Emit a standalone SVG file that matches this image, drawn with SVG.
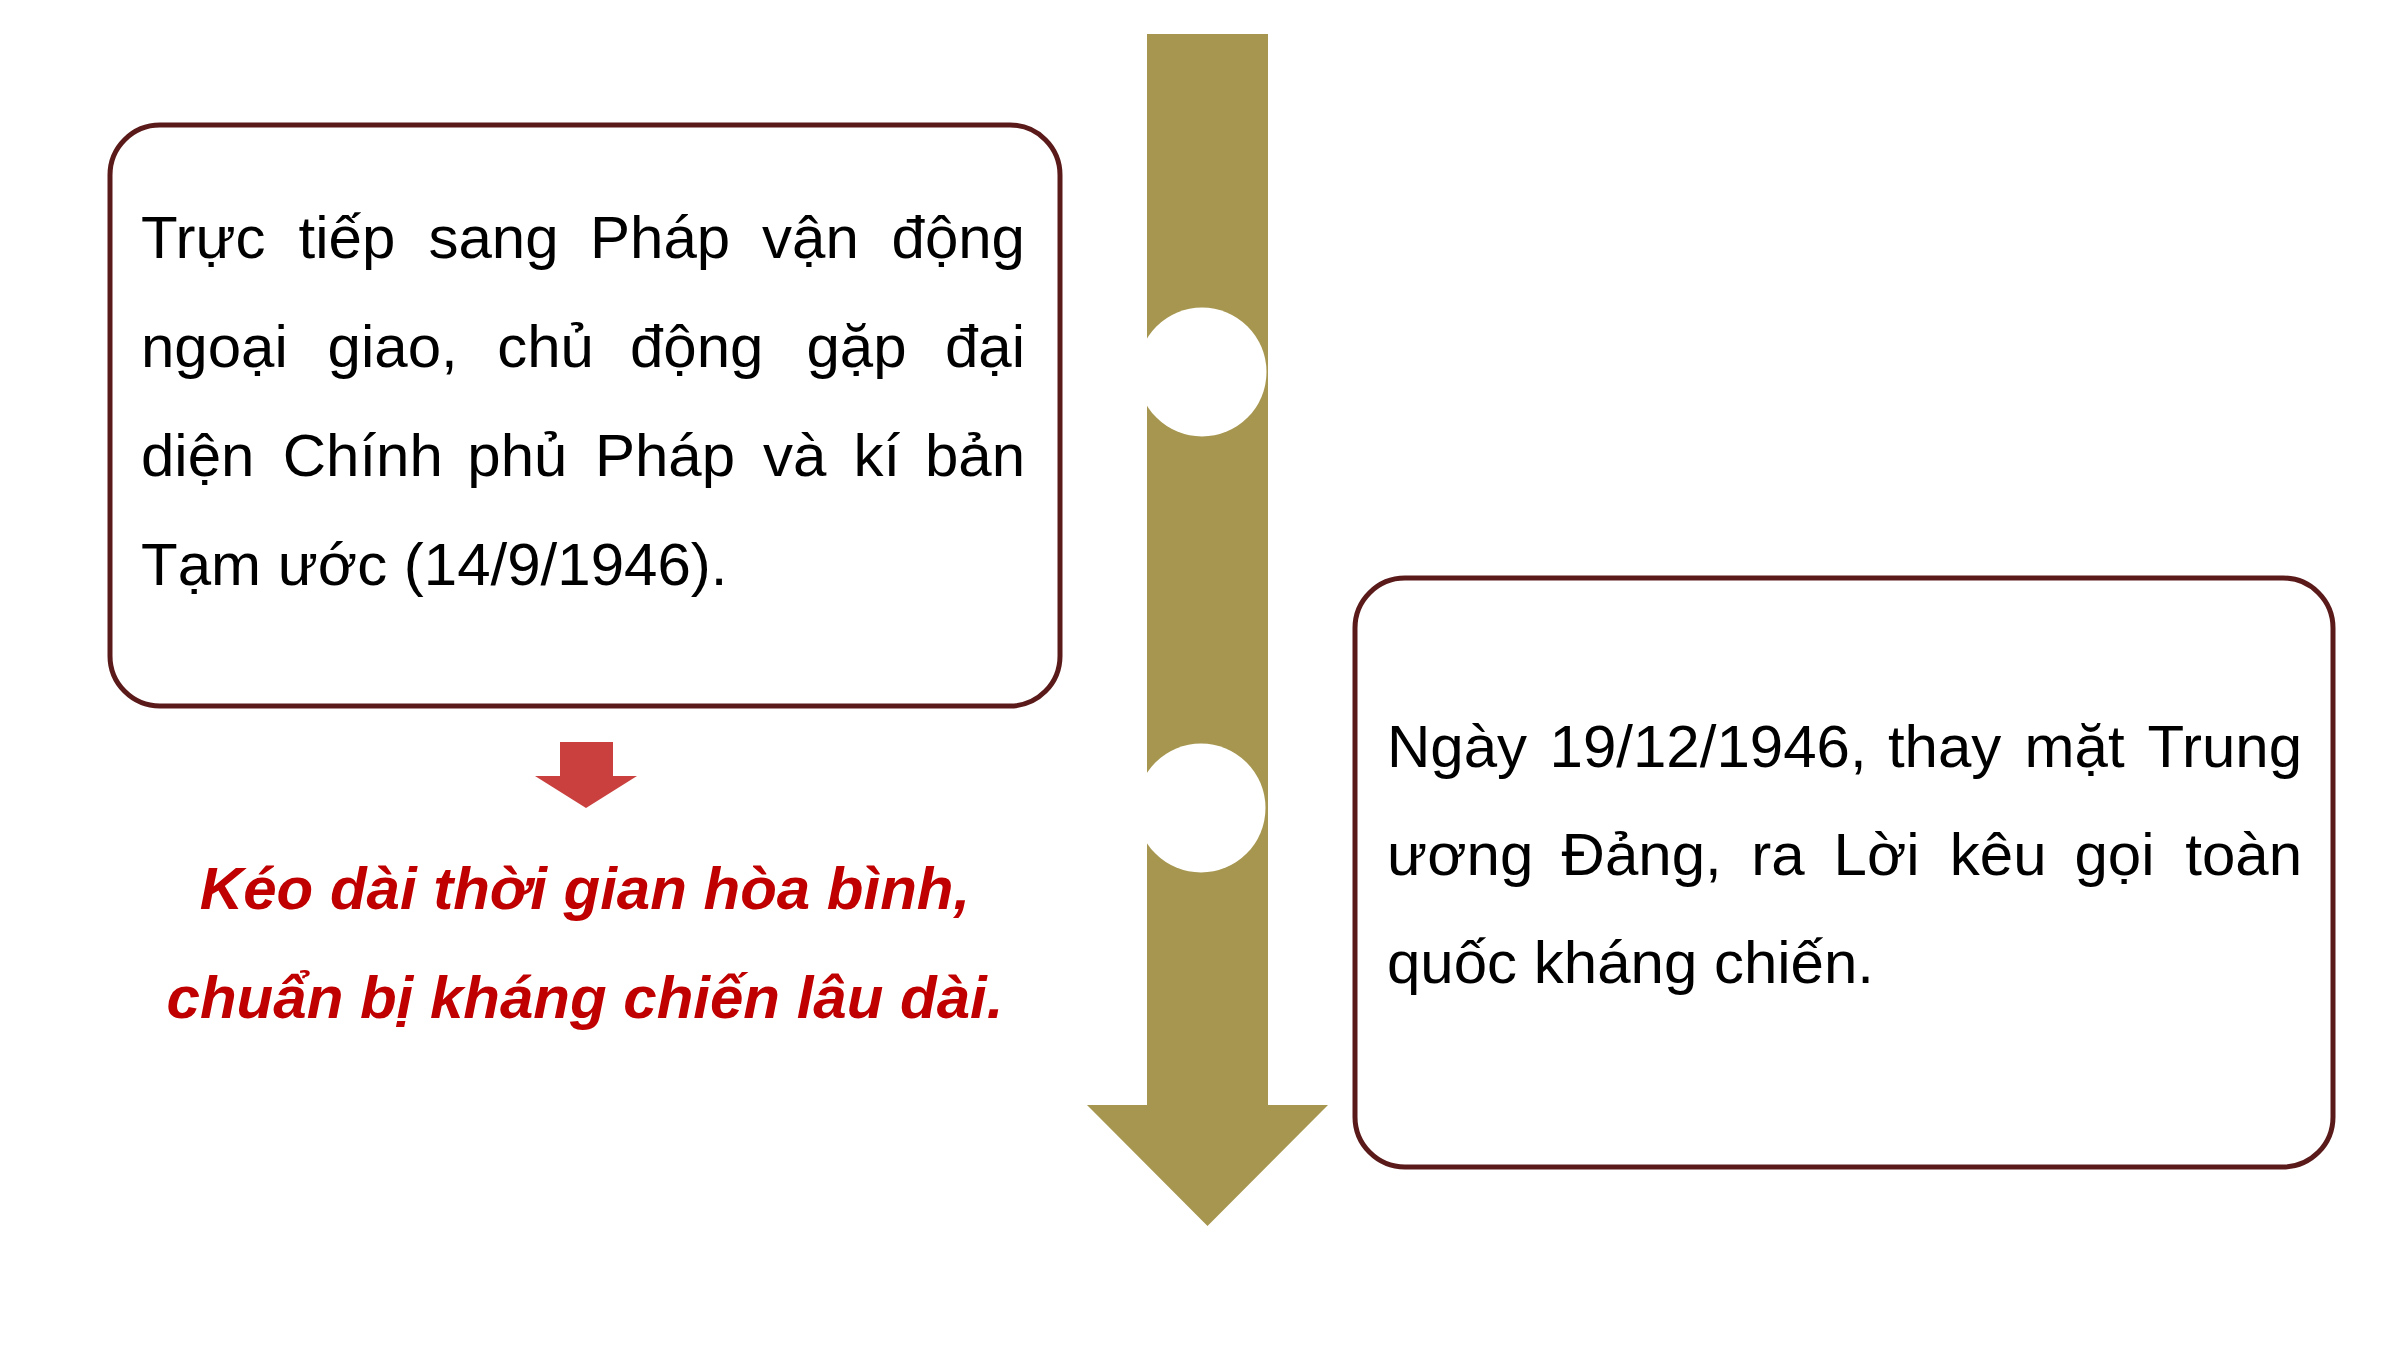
<svg xmlns="http://www.w3.org/2000/svg" width="2400" height="1350" viewBox="0 0 2400 1350">
<style>
.box{fill:#ffffff;stroke:#5b1a1a;stroke-width:5}
.t{font-family:"Liberation Sans",Arial,sans-serif;font-size:60px;fill:#000000}
.e{text-anchor:end}
.r{font-family:"Liberation Sans",Arial,sans-serif;font-size:60px;font-weight:bold;font-style:italic;fill:#c00000;text-anchor:middle}
.olive{fill:#a6964f}
.dot{fill:#ffffff}
</style>
<rect width="2400" height="1350" fill="#ffffff"/>
<g id="connectors">
  <g id="timeline">
    <polygon class="olive" points="1147,34 1268,34 1268,1105 1328,1105 1207.5,1226 1087,1105 1147,1105"/>
    <circle class="dot" cx="1202" cy="372" r="64.5"/>
    <circle class="dot" cx="1201" cy="808" r="64.5"/>
  </g>
  <polygon id="result-arrow" fill="#c9403e" points="560,742 613,742 613,776 637,776 586,808 535,776 560,776"/>
</g>
<g id="node-left">
  <rect class="box" x="110" y="125" width="950" height="581" rx="50" ry="50"/>
  <text class="t" y="258"><tspan x="141">Trực</tspan><tspan x="298.6">tiếp</tspan><tspan x="428.4">sang</tspan><tspan x="590.1">Pháp</tspan><tspan x="762.1">vận</tspan></text>
  <text class="t e" x="1025" y="258">động</text>
  <text class="t" y="367"><tspan x="141">ngoại</tspan><tspan x="327.6">giao,</tspan><tspan x="497.2">chủ</tspan><tspan x="630">động</tspan><tspan x="806.5">gặp</tspan></text>
  <text class="t e" x="1025" y="367">đại</text>
  <text class="t" y="476"><tspan x="141">diện</tspan><tspan x="282.7">Chính</tspan><tspan x="467.3">phủ</tspan><tspan x="594.9">Pháp</tspan><tspan x="763.1">và</tspan><tspan x="853.4">kí</tspan></text>
  <text class="t e" x="1025" y="476">bản</text>
  <text class="t" x="141" y="585">Tạm ước (14/9/1946).</text>
</g>
<g id="node-result">
  <text class="r" x="585" y="909">Kéo dài thời gian hòa bình,</text>
  <text class="r" x="585" y="1018">chuẩn bị kháng chiến lâu dài.</text>
</g>
<g id="node-right">
  <rect class="box" x="1355" y="578" width="978" height="589" rx="50" ry="50"/>
  <text class="t" y="767"><tspan x="1387">Ngày</tspan><tspan x="1549.6">19/12/1946,</tspan><tspan x="1887.9">thay</tspan><tspan x="2024.6">mặt</tspan></text>
  <text class="t e" x="2302" y="767">Trung</text>
  <text class="t" y="875"><tspan x="1387">ương</tspan><tspan x="1561.6">Đảng,</tspan><tspan x="1751.2">ra</tspan><tspan x="1833.6">Lời</tspan><tspan x="1949.8">kêu</tspan><tspan x="2074.5">gọi</tspan></text>
  <text class="t e" x="2302" y="875">toàn</text>
  <text class="t" x="1387" y="983">quốc kháng chiến.</text>
</g>
</svg>
